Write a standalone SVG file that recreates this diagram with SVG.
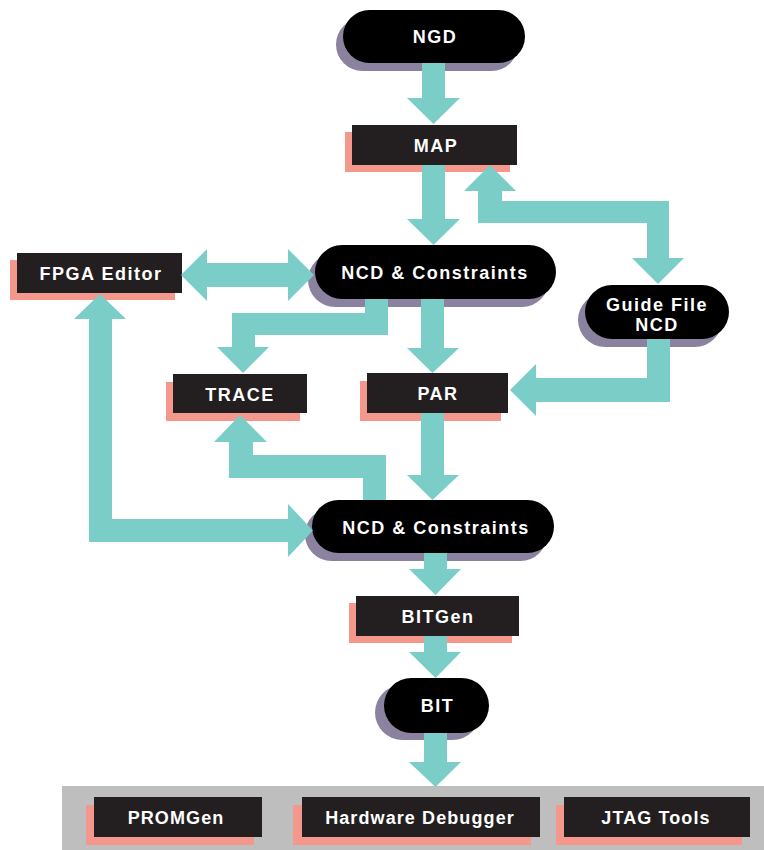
<svg xmlns="http://www.w3.org/2000/svg" width="764" height="850" viewBox="0 0 764 850">
<style>
.pill{fill:#000}
.pshadow{fill:#8a829f}
.box{fill:#231f20}
.bshadow{fill:#f4978d}
.arrow{fill:#7bcdc8}
text{font-family:"Liberation Sans",Arial,Helvetica,sans-serif;font-weight:bold;font-size:18px;fill:#fff;text-anchor:middle;letter-spacing:1.5px}
.tool{letter-spacing:1.1px}
</style>
<rect x="0" y="0" width="764" height="850" fill="#fff"/>
<rect id="panel" x="62" y="786" width="702" height="64" fill="#bebebe"/>
<g id="ngd"><rect class="pshadow" x="336" y="18" width="182" height="53" rx="26.5"/><rect class="pill" x="343" y="10" width="182" height="53" rx="26.5"/><text x="435" y="43">NGD</text></g>
<g id="map"><rect class="bshadow" x="345" y="132" width="165" height="40"/><rect class="box" x="352" y="125" width="165" height="40"/><text x="436" y="151.5">MAP</text></g>
<g id="ncd1"><rect class="pshadow" x="308" y="253" width="241" height="54" rx="27"/><rect class="pill" x="315" y="245" width="241" height="54" rx="27"/><text x="435" y="279">NCD &amp; Constraints</text></g>
<g id="fpga"><rect class="bshadow" x="10" y="260" width="165" height="40"/><rect class="box" x="17" y="253" width="165" height="40"/><text x="101" y="280">FPGA Editor</text></g>
<g id="guide"><rect class="pshadow" x="578" y="293" width="144" height="54" rx="27"/><rect class="pill" x="585" y="285" width="144" height="54" rx="27"/><text x="657" y="311">Guide File</text><text x="657" y="331">NCD</text></g>
<g id="trace"><rect class="bshadow" x="166" y="382" width="134" height="39"/><rect class="box" x="173" y="374" width="134" height="39"/><text x="240" y="400.5">TRACE</text></g>
<g id="par"><rect class="bshadow" x="360" y="381" width="141" height="40"/><rect class="box" x="367" y="373" width="141" height="40"/><text x="438" y="400">PAR</text></g>
<g id="ncd2"><rect class="pshadow" x="305" y="508" width="242" height="53" rx="26.5"/><rect class="pill" x="312" y="500" width="242" height="53" rx="26.5"/><text x="436" y="534">NCD &amp; Constraints</text></g>
<g id="bitgen"><rect class="bshadow" x="349" y="603" width="163" height="40"/><rect class="box" x="356" y="596" width="163" height="40"/><text x="438" y="622.5">BITGen</text></g>
<g id="bit"><rect class="pshadow" x="375" y="685" width="105" height="55" rx="27.5"/><rect class="pill" x="384" y="678" width="105" height="55" rx="27.5"/><text x="437.5" y="712">BIT</text></g>
<g id="promgen"><rect class="bshadow" x="86" y="805" width="168" height="40"/><rect class="box" x="94" y="797" width="168" height="40"/><text class="tool" x="176" y="823.5">PROMGen</text></g>
<g id="hwdebug"><rect class="bshadow" x="293" y="805" width="238" height="40"/><rect class="box" x="302" y="797" width="238" height="40"/><text class="tool" x="420" y="823.5">Hardware Debugger</text></g>
<g id="jtag"><rect class="bshadow" x="556" y="805" width="186" height="40"/><rect class="box" x="564" y="797" width="186" height="40"/><text class="tool" x="656" y="823.5">JTAG Tools</text></g>
<g id="connectors" class="arrow">
<polygon points="422,63 445,63 445,98 460,98 433.5,124 407,98 422,98"/>
<polygon points="422,165 445,165 445,219 460,219 433.5,245 407,219 422,219"/>
<polygon points="490,165 516,191 502,191 502,201 669,201 669,258 684,258 658,284 632,258 647,258 647,223 478,223 478,191 464,191"/>
<polygon points="181,275 207,249 207,263 288,263 288,249 314,275 288,301 288,287 207,287 207,301"/>
<polygon points="365,299 388,299 388,335 255,335 255,347 269,347 243,373 217,347 232,347 232,313 365,313"/>
<polygon points="421,299 444,299 444,348 459,348 432.5,373 407,348 421,348"/>
<polygon points="647,339 670,339 670,402 536,402 536,416 510,390 536,364 536,378 647,378"/>
<polygon points="421,413 444,413 444,475 459,475 432.5,500 407,475 421,475"/>
<polygon points="363,500 386,500 386,455 253,455 253,442 267,442 240,415 214,442 229,442 229,478 363,478"/>
<polygon points="100,294 126,319 112,319 112,519 288,519 288,504 313,530.5 288,557 288,542 89,542 89,319 74,319"/>
<polygon points="424,553 447,553 447,569 461,569 435.5,595 409,569 424,569"/>
<polygon points="424,636 447,636 447,652 461,652 435.5,678 409,652 424,652"/>
<polygon points="424,733 447,733 447,762 461,762 435.5,787 409,762 424,762"/>
</g>
</svg>
